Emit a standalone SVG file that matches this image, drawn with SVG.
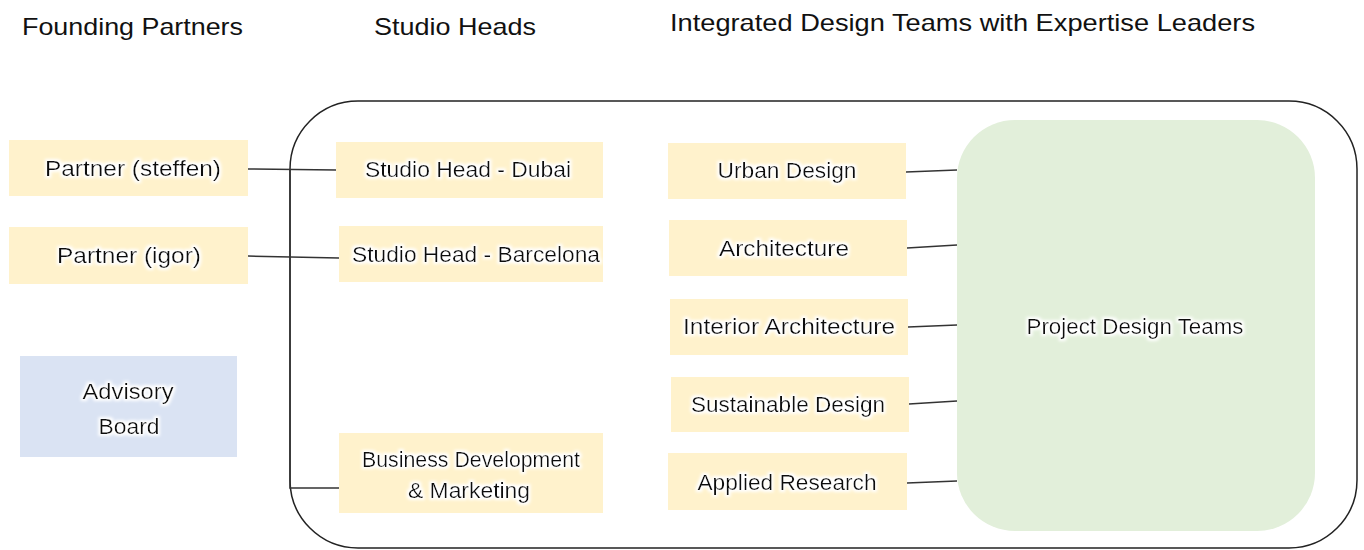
<svg xmlns="http://www.w3.org/2000/svg" width="1364" height="550" viewBox="0 0 1364 550">
<defs>
<filter id="glow" x="-10%" y="-30%" width="120%" height="160%">
<feMorphology in="SourceAlpha" operator="dilate" radius="1.5" result="d"/>
<feGaussianBlur in="d" stdDeviation="1.5" result="b"/>
<feFlood flood-color="#ffffff"/>
<feComposite in2="b" operator="in" result="w"/>
<feMerge><feMergeNode in="w"/><feMergeNode in="SourceGraphic"/></feMerge>
</filter>
</defs>
<style>
text{font-family:"Liberation Sans",Arial,sans-serif;fill:#111;}
.h{font-size:24px;}
.t{font-size:22px;text-anchor:middle;filter:url(#glow);}
.y{fill:#fff2cc;}
.b{fill:#dae3f3;}
.g{fill:#e2efda;}
.c{stroke:#333;stroke-width:1.5;fill:none;}
</style>
<rect width="1364" height="550" fill="#ffffff"/>
<g id="headers">
<text class="h" x="22" y="35" textLength="221" lengthAdjust="spacingAndGlyphs">Founding Partners</text>
<text class="h" x="374" y="35" textLength="162" lengthAdjust="spacingAndGlyphs">Studio Heads</text>
<text class="h" x="670" y="31" textLength="585" lengthAdjust="spacingAndGlyphs">Integrated Design Teams with Expertise Leaders</text>
</g>
<g id="frame">
<rect x="290" y="101" width="1067" height="447" rx="68" ry="68" fill="none" stroke="#222" stroke-width="1.5"/>
</g>
<g id="connectors">
<path class="c" d="M248 169 L336 170"/>
<path class="c" d="M248 256 L339 258"/>
<path class="c" d="M290 170 L290 488 L339 488"/>
<path class="c" d="M906 172 L957 170"/>
<path class="c" d="M907 248 L957 245"/>
<path class="c" d="M908 327 L957 325"/>
<path class="c" d="M909 404 L957 401"/>
<path class="c" d="M907 483 L957 481"/>
</g>
<g id="partner-steffen">
<rect class="y" x="9" y="140" width="239" height="56"/>
<text class="t" x="133" y="176" textLength="176" lengthAdjust="spacingAndGlyphs">Partner (steffen)</text>
</g>
<g id="partner-igor">
<rect class="y" x="9" y="227" width="239" height="57"/>
<text class="t" x="129" y="263" textLength="144" lengthAdjust="spacingAndGlyphs">Partner (igor)</text>
</g>
<g id="advisory-board">
<rect class="b" x="20" y="356" width="217" height="101"/>
<text class="t" x="128" y="399" textLength="91" lengthAdjust="spacingAndGlyphs">Advisory</text>
<text class="t" x="129" y="434" textLength="61" lengthAdjust="spacingAndGlyphs">Board</text>
</g>
<g id="studio-dubai">
<rect class="y" x="336" y="142" width="267" height="56"/>
<text class="t" x="468" y="177" textLength="206" lengthAdjust="spacingAndGlyphs">Studio Head - Dubai</text>
</g>
<g id="studio-barcelona">
<rect class="y" x="339" y="226" width="264" height="56"/>
<text class="t" x="476" y="262" textLength="248" lengthAdjust="spacingAndGlyphs">Studio Head - Barcelona</text>
</g>
<g id="business-development">
<rect class="y" x="339" y="433" width="264" height="80"/>
<text class="t" x="471" y="467" textLength="218" lengthAdjust="spacingAndGlyphs">Business Development</text>
<text class="t" x="469" y="498" textLength="122" lengthAdjust="spacingAndGlyphs">&amp; Marketing</text>
</g>
<g id="urban-design">
<rect class="y" x="668" y="143" width="238" height="56"/>
<text class="t" x="787" y="178" textLength="139" lengthAdjust="spacingAndGlyphs">Urban Design</text>
</g>
<g id="architecture">
<rect class="y" x="669" y="220" width="238" height="56"/>
<text class="t" x="784" y="256" textLength="130" lengthAdjust="spacingAndGlyphs">Architecture</text>
</g>
<g id="interior-architecture">
<rect class="y" x="670" y="299" width="238" height="56"/>
<text class="t" x="789" y="334" textLength="212" lengthAdjust="spacingAndGlyphs">Interior Architecture</text>
</g>
<g id="sustainable-design">
<rect class="y" x="671" y="377" width="238" height="55"/>
<text class="t" x="788" y="412" textLength="194" lengthAdjust="spacingAndGlyphs">Sustainable Design</text>
</g>
<g id="applied-research">
<rect class="y" x="668" y="453" width="239" height="57"/>
<text class="t" x="787" y="490" textLength="179" lengthAdjust="spacingAndGlyphs">Applied Research</text>
</g>
<g id="project-design-teams">
<rect class="g" x="957" y="120" width="358" height="411" rx="58" ry="58"/>
<text class="t" x="1135" y="334" textLength="217" lengthAdjust="spacingAndGlyphs">Project Design Teams</text>
</g>
</svg>
